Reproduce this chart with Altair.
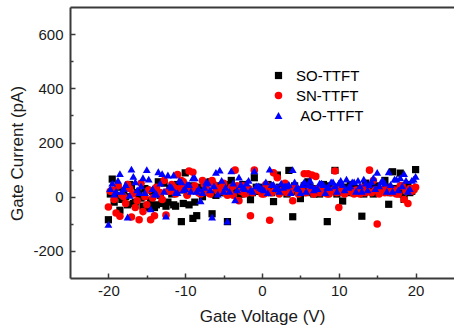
import altair as alt
import pandas as pd

# ---------------- data ----------------
series_names = ["SO-TTFT", "SN-TTFT", "AO-TTFT"]
series_colors = ["#000000", "#ff0000", "#0000ff"]
series_shapes = ["square", "circle", "triangle-up"]
series_sizes = [52, 62, 104]

# first sweep voltages
xs1 = [-20, -19.5, -19, -18.5, -18, -17.5, -17, -16.5, -16, -15.5,
       -15, -14.5, -14, -13.5, -13, -12.5, -12, -11.5, -11, -10.5,
       -10, -9.5, -9, -8.5, -8, -7.5, -7, -6.5, -6, -5.5,
       -5, -4.5, -4, -3.5, -3, -2.5, -2, -1.5, -1, -0.5,
       0, 0.5, 1, 1.5, 2, 2.5, 3, 3.5, 4, 4.5,
       5, 5.5, 6, 6.5, 7, 7.5, 8, 8.5, 9, 9.5,
       10, 10.5, 11, 11.5, 12, 12.5, 13, 13.5, 14, 14.5,
       15, 15.5, 16, 16.5, 17, 17.5, 18, 18.5, 19, 19.5,
       20]
# second sweep voltages
xs2 = [-19.75, -19.25, -18.75, -18.25, -17.75, -17.25, -16.75, -16.25, -15.75, -15.25,
       -14.75, -14.25, -13.75, -13.25, -12.75, -12.25, -11.75, -11.25, -10.75, -10.25,
       -9.75, -9.25, -8.75, -8.25, -7.75, -7.25, -6.75, -6.25, -5.75, -5.25,
       -4.75, -4.25, -3.75, -3.25, -2.75, -2.25, -1.75, -1.25, -0.75, -0.25,
       0.25, 0.75, 1.25, 1.75, 2.25, 2.75, 3.25, 3.75, 4.25, 4.75,
       5.25, 5.75, 6.25, 6.75, 7.25, 7.75, 8.25, 8.75, 9.25, 9.75,
       10.25, 10.75, 11.25, 11.75, 12.25, 12.75, 13.25, 13.75, 14.25, 14.75,
       15.25, 15.75, 16.25, 16.75, 17.25, 17.75, 18.25, 18.75, 19.25, 19.75]

so_1 = [-85, 65, 5, -50, 20, -30, 40, -20, 10, -35,
        25, -15, -40, 55, -25, -35, 30, -30, 45, -92,
        88, -30, -80, -70, 35, 50, 20, -63, 5, 40,
        15, -92, 60, 25, 10, 45, 30, -11, 70, 20,
        35, 15, 40, -18, 80, 25, 30, 97, -74, 20,
        -7, 40, 55, 15, 30, 10, 45, -92, 20, 97,
        35, -16, 25, 45, 15, 30, -72, 50, 20, 10,
        40, 25, 60, -28, 92, 30, 87, -10, 45, 20,
        100]
so_2 = [10, -20, 35, -10, 0, 45, -25, 15, -5, 30,
        -40, 20, -30, 5, 50, -20, 10, -35, 25, -25,
        15, 40, -20, 30, 0, 20, 55, 10, 25, 35,
        15, 45, 20, 30, 10, 40, 25, 15, 35, 20,
        30, 45, 15, 25, 35, 20, 10, 30, 40, 20,
        15, 25, 35, 10, 20, 30, 15, 40, 25, 10,
        20, 35, 15, 30, 25, 20, 10, 40, 30, 15,
        25, 20, 35, 15, 30, 20, 10, 25, 15, 30]

sn_1 = [-38, 25, -60, -72, 0, 45, -75, -40, -85, -55,
        -30, -85, -70, 10, -10, -68, 20, 35, 82, 60,
        40, 95, 90, 25, 10, 45, 15, 60, 30, 20,
        50, 5, 35, 98, -15, 40, 15, -70, 98, 25,
        10, 45, -87, 88, 70, 20, 50, 15, -15, 30,
        20, 85, 85, 80, 75, 15, 25, 10, 20, 95,
        -40, 15, 20, 25, 10, 20, 30, 15, 98, 60,
        -101, 25, 15, 30, 20, 10, 40, -10, -25, 20,
        35]
sn_2 = [20, -10, 40, 5, -25, 30, 10, -15, 50, 0,
        25, -5, 35, 15, 60, 20, 45, 10, 30, 55,
        5, 25, 40, 15, 60, 30, 10, 45, 20, 35,
        15, 25, 5, 40, 20, 10, 30, 15, 25, 20,
        10, 20, 15, 30, 10, 25, 15, 20, 35, 10,
        20, 15, 25, 10, 30, 15, 20, 10, 25, 15,
        30, 10, 20, 15, 25, 10, 35, 20, 15, 25,
        10, 20, 30, 15, 25, 10, 40, 20, 30, 25]

ao_1 = [-102, 50, 20, 85, 30, -75, 102, 55, 15, 70,
        100, -45, 10, 92, 85, -72, 40, 80, 15, 55,
        30, 45, 70, 20, -15, 35, 50, -75, 90, 98,
        20, -90, 95, -12, 72, 35, 50, 25, 95, 40,
        30, 55, 102, 45, 35, 50, 40, 45, 100, 35,
        15, 55, 45, 40, 30, 50, 45, 35, 55, 40,
        50, 45, 65, 40, 55, 60, 20, 50, 45, 70,
        90, 55, 50, 92, 20, 65, 70, 85, 20, 60,
        75]
ao_2 = [30, 10, 60, 20, 45, 5, 75, 25, 40, 15,
        65, 30, 10, 50, 20, 80, 35, 15, 60, 25,
        45, 20, 70, 30, 15, 55, 25, 40, 10, 60,
        35, 20, 50, 25, 45, 30, 60, 20, 40, 35,
        25, 15, 45, 30, 20, 35, 40, 15, 55, 30,
        45, 20, 60, 25, 30, 50, 15, 35, 55, 20,
        60, 25, 35, 55, 20, 40, 65, 25, 55, 30,
        40, 60, 20, 45, 65, 25, 40, 60, 30, 65]

x_major = [-20, -10, 0, 10, 20]
x_minor = [-15, -5, 5, 15]
y_major = [-200, 0, 200, 400, 600]
y_minor = [-100, 100, 300, 500]

# ---------------- table ----------------
rows = []
for name, ys_a, ys_b in [("SO-TTFT", so_1, so_2), ("SN-TTFT", sn_1, sn_2), ("AO-TTFT", ao_1, ao_2)]:
    for xv, yv in zip(xs1, ys_a):
        rows.append({"V": xv, "I": yv, "series": name})
    for xv, yv in zip(xs2, ys_b):
        rows.append({"V": xv, "I": yv, "series": name})
df = pd.DataFrame(rows)

FONT = "Liberation Sans"
AX = "#3a3a3a"
TXT = "#1a1a1a"

x_scale = alt.Scale(domain=[-25, 25], nice=False, zero=False)
y_scale = alt.Scale(domain=[-300, 700], nice=False, zero=False)

# main axes: lines, labels, titles (no ticks)
x_axis = alt.Axis(
    values=x_major, labelExpr="'' + datum.value",
    ticks=False, grid=False,
    domain=True, domainColor=AX, domainWidth=2,
    labelFont=FONT, labelFontSize=15, labelColor=TXT, labelPadding=5,
    title="Gate Voltage (V)", titleFont=FONT, titleFontSize=17, titleFontWeight="normal",
    titleColor=TXT, titleY=38, titleBaseline="middle",
)
y_axis = alt.Axis(
    values=y_major, labelExpr="'' + datum.value",
    ticks=False, grid=False,
    domain=True, domainColor=AX, domainWidth=2,
    labelFont=FONT, labelFontSize=15, labelColor=TXT, labelPadding=7,
    title="Gate Current (pA)", titleFont=FONT, titleFontSize=17, titleFontWeight="normal",
    titleColor=TXT, titleX=-53, titleY=146, titleBaseline="middle",
)


def tick_axis(orient, values, size):
    # ticks only, pulled inside the frame
    return alt.Axis(orient=orient, values=values, domain=False, labels=False, grid=False,
                    ticks=True, tickSize=size, tickWidth=1.5, tickColor=AX,
                    offset=-size, title=None)


legend = alt.Legend(
    orient="none", legendX=201, legendY=61, title=None, padding=0,
    labelFont=FONT, labelFontSize=15, labelColor="#000000",
    symbolSize=55, symbolStrokeWidth=0, labelOffset=10, rowPadding=4,
    labelExpr="datum.value == 'AO-TTFT' ? '\u200b\u00a0AO-TTFT' : datum.label",
)

points = alt.Chart(df).mark_point(filled=True, opacity=1, strokeWidth=0).encode(
    x=alt.X("V:Q", scale=x_scale, axis=x_axis),
    y=alt.Y("I:Q", scale=y_scale, axis=y_axis),
    color=alt.Color("series:N", scale=alt.Scale(domain=series_names, range=series_colors), legend=legend),
    shape=alt.Shape("series:N", scale=alt.Scale(domain=series_names, range=series_shapes), legend=legend),
    size=alt.Size("series:N", scale=alt.Scale(domain=series_names, range=series_sizes), legend=None),
)

major_ticks = alt.Chart(df).mark_point(opacity=0).encode(
    x=alt.X("V:Q", scale=x_scale, axis=tick_axis("bottom", x_major, 5)),
    y=alt.Y("I:Q", scale=y_scale, axis=tick_axis("left", y_major, 5)),
)
minor_ticks = alt.Chart(df).mark_point(opacity=0).encode(
    x=alt.X("V:Q", scale=x_scale, axis=tick_axis("bottom", x_minor, 3)),
    y=alt.Y("I:Q", scale=y_scale, axis=tick_axis("left", y_minor, 3)),
)
frame = alt.Chart(df).mark_point(opacity=0).encode(
    x=alt.X("V:Q", scale=x_scale,
            axis=alt.Axis(orient="top", domain=True, domainColor=AX, domainWidth=2,
                          ticks=False, labels=False, grid=False, title=None)),
    y=alt.Y("I:Q", scale=y_scale,
            axis=alt.Axis(orient="left", domain=False, ticks=False, labels=False, grid=False, title=None)),
)

chart = alt.layer(points, major_ticks, minor_ticks, frame).resolve_axis(
    x="independent", y="independent"
).properties(
    width=384, height=271,
    autosize=alt.AutoSizeParams(type="none"),
    padding={"left": 70, "top": 7, "right": 0, "bottom": 50},
    background="white",
).configure_view(stroke=None)

chart.save("out.html", embed_options={"renderer": "svg", "actions": False})
